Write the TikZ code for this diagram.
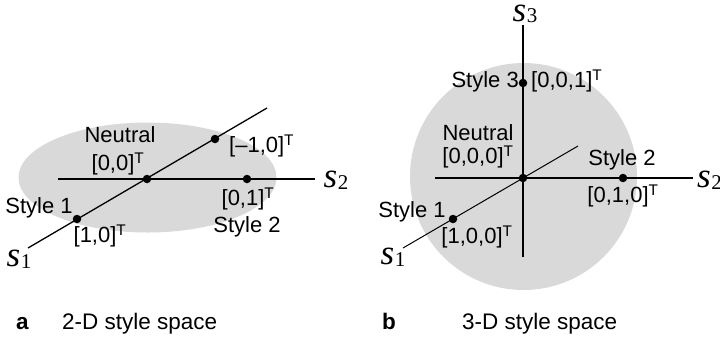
\documentclass[tikz,border=0pt]{standalone}
\usepackage{fontspec}
\setmainfont{Liberation Sans}
\newfontfamily\axfont{Liberation Serif}
\newcommand\Tsup{\textsuperscript{T}}
\newcommand\axl[1]{{\fontsize{35}{35}\selectfont\axfont\itshape s}\kern0.5pt\raisebox{-1.5pt}{\fontsize{21}{21}\selectfont\axfont #1}}
\begin{document}
\begin{tikzpicture}[x=1pt,y=-1pt,
  txt/.style={inner sep=0pt,font=\fontsize{22}{22}\selectfont},
  captxt/.style={inner sep=0pt,font=\fontsize{22.5}{22.5}\selectfont,anchor=base west},
  capletter/.style={inner sep=0pt,font=\fontsize{22.5}{22.5}\selectfont\bfseries,anchor=base west},
  axlab/.style={inner sep=0pt},
  axis/.style={line width=1.3pt},
  pt/.style={circle,fill=black,inner sep=0pt,minimum size=8.5pt},
  region/.style={fill=black!15,draw=none}]
\useasboundingbox (0,0) rectangle (720,338);
% ---------- panel a ----------
\fill[region] (147.5,177.5) ellipse [x radius=129, y radius=55];
\coordinate (a2l) at (58,179);
\coordinate (a2r) at (315,179);
\coordinate (a1l) at (28,248);
\coordinate (a1r) at (267,108);
\draw[axis] (a2l) -- (a2r);
\draw[axis] (a1l) -- (a1r);
\node[pt] (ao) at (147,179) {};
\node[pt] (am) at (215,139) {};
\node[pt] (as2) at (247,179) {};
\node[pt] (as1) at (77,219) {};
\node[txt] (aneut) at (120,135) {Neutral};
\node[txt] (aneutv) at (118,164) {[0,0]\Tsup};
\node[txt,anchor=west] (amv) at (229,146) {[–1,0]\Tsup};
\node[axlab] (as2lab) at (336,180) {\axl{2}};
\node[txt] (as2v) at (248,199) {[0,1]\Tsup};
\node[txt] (as2n) at (247,227) {Style 2};
\node[txt] (as1n) at (39,208) {Style 1};
\node[txt] (as1v) at (100,236) {[1,0]\Tsup};
\node[axlab] (as1lab) at (19,259) {\axl{1}};
% ---------- panel b ----------
\fill[region] (523.5,176.5) circle [radius=113.5];
\coordinate (b3b) at (523,257);
\coordinate (b3t) at (523,25);
\coordinate (b2l) at (435,178);
\coordinate (b2r) at (693,178);
\coordinate (b1l) at (403,248);
\coordinate (b1r) at (578,146);
\draw[axis] (b3b) -- (b3t);
\draw[axis] (b2l) -- (b2r);
\draw[line width=1pt] (b1l) -- (b1r);
\node[pt] (bo) at (523,178) {};
\node[pt] (bs1) at (453,219) {};
\node[pt] (bs2) at (623,178) {};
\node[pt] (bs3) at (523,83) {};
\node[axlab] (bs3lab) at (525,14) {\axl{3}};
\node[axlab,anchor=west] (bs2lab) at (697,180) {\axl{2}};
\node[axlab] (bs1lab) at (393,257) {\axl{1}};
\node[txt,anchor=east] (bs3n) at (519,82) {Style 3};
\node[txt,anchor=west] (bs3v) at (531,81) {[0,0,1]\Tsup};
\node[txt] (bneut) at (478,133) {Neutral};
\node[txt] (bneutv) at (478,157) {[0,0,0]\Tsup};
\node[txt] (bs2n) at (622,160) {Style 2};
\node[txt] (bs2v) at (623,196) {[0,1,0]\Tsup};
\node[txt] (bs1n) at (412,212) {Style 1};
\node[txt] (bs1v) at (477,237) {[1,0,0]\Tsup};
% ---------- captions ----------
\node[capletter] (capa) at (16,329) {a};
\node[captxt] (capat) at (62,329) {2-D style space};
\node[capletter] (capb) at (382,329) {b};
\node[captxt] (capbt) at (462,329) {3-D style space};
\end{tikzpicture}
\end{document}
